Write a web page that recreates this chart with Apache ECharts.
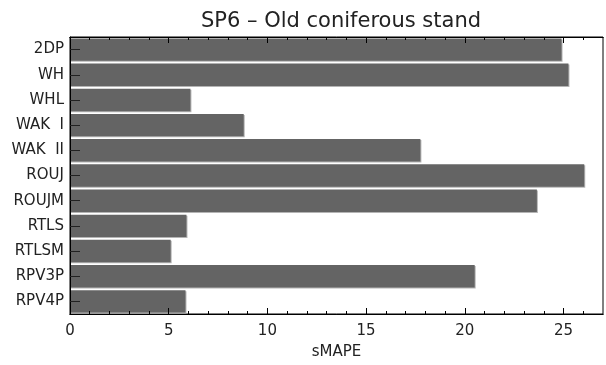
<!DOCTYPE html>
<html>
<head>
<meta charset="utf-8">
<script src="https://cdn.jsdelivr.net/npm/echarts@6/dist/echarts.min.js"></script>
<style>html,body{margin:0;padding:0;background:#fff}#c{width:606px;height:365px}</style>
</head>
<body>
<div id="c"></div>
<script>
var categories = ['2DP','WH','WHL','WAK  I','WAK  II','ROUJ','ROUJM','RTLS','RTLSM','RPV3P','RPV4P'];
var smape = [24.9, 25.25, 6.1, 8.8, 17.75, 26.05, 23.65, 5.9, 5.1, 20.5, 5.85];
var majorTicks = [0, 5, 10, 15, 20, 25];
var minorTicks = [1,2,3,4,6,7,8,9,11,12,13,14,16,17,18,19,21,22,23,24,26];
var xMax = 27;

var font = 'DejaVu Sans';
function xAx(pos, ticks, len, labels, extra) {
  var a = {
    type: 'value', position: pos, min: 0, max: xMax, z: 5,
    axisLine: {show: true, lineStyle: {color: '#000', width: 1}},
    splitLine: {show: false},
    axisTick: {show: true, inside: true, length: len, customValues: ticks, lineStyle: {color: '#000', width: 1}},
    axisLabel: {show: labels, customValues: majorTicks, color: '#222', fontFamily: font, fontSize: 15, margin: 10}
  };
  for (var k in extra) a[k] = extra[k];
  return a;
}
var chart = echarts.init(document.getElementById('c'), null, {renderer: 'canvas'});
chart.setOption({
  animation: false,
  backgroundColor: '#fff',
  title: {
    text: 'SP6 – Old coniferous stand',
    left: 336, top: 6, textAlign: 'center',
    textStyle: {fontFamily: font, fontSize: 21, fontWeight: 'normal', color: '#222'}
  },
  grid: {left: 70, right: 3, top: 37, bottom: 50, show: true, borderColor: '#000', borderWidth: 1, backgroundColor: 'transparent'},
  xAxis: [
    xAx('bottom', majorTicks, 6, true, {name: 'sMAPE', nameLocation: 'middle', nameGap: 31,
      nameTextStyle: {fontFamily: font, fontSize: 15, color: '#222'}}),
    xAx('bottom', minorTicks, 3, false, {}),
    xAx('top', majorTicks, 6, false, {}),
    xAx('top', minorTicks, 3, false, {})
  ],
  yAxis: {
    type: 'category', data: categories, inverse: true, z: 5,
    axisLine: {show: true, lineStyle: {color: '#000', width: 1}},
    axisTick: {show: true, inside: true, length: 10, alignWithLabel: true, lineStyle: {color: '#222', width: 1}},
    axisLabel: {color: '#222', fontFamily: font, fontSize: 15, margin: 6},
    splitLine: {show: false}
  },
  series: [{
    type: 'bar', data: smape, xAxisIndex: 0,
    barCategoryGap: '11%',
    itemStyle: {color: '#646464', shadowColor: '#b4b4b4', shadowOffsetX: 1, shadowOffsetY: 1, shadowBlur: 0},
    z: 1
  }]
});
</script>
</body>
</html>
